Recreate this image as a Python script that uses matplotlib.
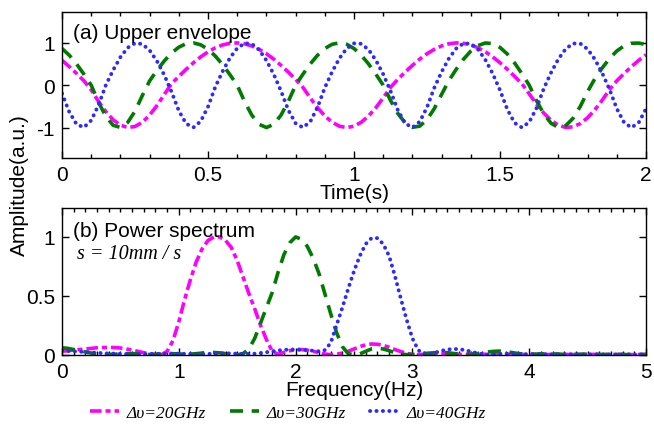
import numpy as np
import matplotlib
matplotlib.use("Agg")
import matplotlib.pyplot as plt
from matplotlib.ticker import MultipleLocator

plt.rcParams['font.family'] = ['Liberation Sans', 'DejaVu Sans']
plt.rcParams['font.size'] = 15
plt.rcParams['axes.unicode_minus'] = False

# ---- data ----
labels = ['Δυ=20GHz', 'Δυ=30GHz', 'Δυ=40GHz']
colors = ['#ff00ff', '#007a00', '#2b2bff']

# (a) upper envelope, sampled every 0.025 s from 0 to 2 s
time = np.linspace(0, 2, 81)
env_20 = [0.588, 0.438, 0.276, 0.104, -0.112, -0.383, -0.623, -0.816, -0.944, -0.998,
          -0.975, -0.876, -0.707, -0.482, -0.223, 0.035, 0.208, 0.375, 0.530, 0.669,
          0.788, 0.883, 0.951, 0.990, 0.999, 0.978, 0.927, 0.848, 0.743, 0.616,
          0.469, 0.309, 0.139, -0.051, -0.299, -0.529, -0.725, -0.874, -0.968, -1.0,
          -0.968, -0.874, -0.725, -0.529, -0.299, -0.051, 0.139, 0.309, 0.469, 0.616,
          0.743, 0.848, 0.927, 0.978, 0.999, 0.990, 0.951, 0.883, 0.788, 0.669,
          0.530, 0.375, 0.208, 0.035, -0.204, -0.447, -0.660, -0.830, -0.945, -0.997,
          -0.984, -0.906, -0.768, -0.580, -0.354, -0.103, 0.105, 0.276, 0.438, 0.588,
          0.719]
env_30 = [0.866, 0.707, 0.5, 0.259, 0.0, -0.402, -0.736, -0.946, -0.997, -0.879,
          -0.615, -0.245, 0.101, 0.347, 0.571, 0.759, 0.898, 0.980, 0.999, 0.954,
          0.849, 0.689, 0.485, 0.250, 0.0, -0.383, -0.707, -0.924, -1.0, -0.924,
          -0.707, -0.383, 0.0, 0.259, 0.5, 0.707, 0.866, 0.966, 1.0, 0.966,
          0.866, 0.707, 0.5, 0.259, 0.0, -0.357, -0.667, -0.889, -0.994, -0.967,
          -0.813, -0.553, -0.217, 0.110, 0.376, 0.614, 0.806, 0.937, 0.997, 0.982,
          0.892, 0.736, 0.524, 0.272, 0.0, -0.365, -0.680, -0.901, -0.997, -0.956,
          -0.782, -0.5, -0.149, 0.156, 0.407, 0.629, 0.809, 0.93, 0.99, 0.995,
          0.96]
env_40 = [-0.195, -0.634, -0.924, -0.995, -0.831, -0.471, 0.0, 0.354, 0.662, 0.885,
          0.992, 0.972, 0.825, 0.571, 0.244, -0.156, -0.603, -0.908, -0.998, -0.853,
          -0.509, -0.039, 0.328, 0.643, 0.873, 0.989, 0.976, 0.836, 0.586, 0.259,
          -0.137, -0.588, -0.900, -0.999, -0.863, -0.522, -0.059, 0.316, 0.634, 0.868,
          0.988, 0.978, 0.838, 0.588, 0.260, -0.137, -0.588, -0.900, -0.999, -0.863,
          -0.522, -0.059, 0.315, 0.632, 0.866, 0.987, 0.979, 0.843, 0.597, 0.273,
          -0.118, -0.572, -0.891, -1.0, -0.872, -0.540, -0.078, 0.301, 0.620, 0.858,
          0.985, 0.982, 0.851, 0.609, 0.286, -0.098, -0.556, -0.882, -1.0, -0.882,
          -0.556]

# (b) power spectrum, sampled every 0.05 Hz from 0 to 5 Hz
freq = np.linspace(0, 5, 101)
spec_20 = [0.03, 0.035, 0.04, 0.045, 0.05, 0.055, 0.06, 0.062, 0.063, 0.062,
           0.058, 0.05, 0.04, 0.03, 0.018, 0.008, 0.002, 0.0, 0.03, 0.12,
           0.28, 0.47, 0.64, 0.79, 0.90, 0.97, 1.0, 1.0, 0.97, 0.91,
           0.80, 0.66, 0.52, 0.39, 0.25, 0.13, 0.03, 0.005, 0.02, 0.035,
           0.045, 0.045, 0.04, 0.03, 0.018, 0.007, 0.002, 0.005, 0.015, 0.03,
           0.05, 0.07, 0.085, 0.092, 0.09, 0.08, 0.065, 0.045, 0.028, 0.012,
           0.004, 0.002, 0.005, 0.01, 0.012, 0.012, 0.01, 0.006, 0.003, 0.004,
           0.007, 0.008, 0.006, 0.004, 0.003, 0.005, 0.006, 0.005, 0.003, 0.003,
           0.004, 0.005, 0.004, 0.003, 0.003, 0.004, 0.004, 0.003, 0.002, 0.003,
           0.004, 0.004, 0.003, 0.002, 0.003, 0.003, 0.003, 0.002, 0.002, 0.003,
           0.003]
spec_30 = [0.06, 0.055, 0.045, 0.035, 0.025, 0.015, 0.008, 0.004, 0.003, 0.005,
           0.008, 0.01, 0.01, 0.008, 0.005, 0.003, 0.004, 0.007, 0.01, 0.01,
           0.008, 0.005, 0.006, 0.01, 0.015, 0.02, 0.02, 0.017, 0.01, 0.004,
           0.0, 0.01, 0.05, 0.14, 0.27, 0.40, 0.53, 0.70, 0.85, 0.95,
           1.0, 0.98, 0.92, 0.82, 0.69, 0.52, 0.35, 0.19, 0.07, 0.01,
           0.0, 0.008, 0.03, 0.05, 0.055, 0.05, 0.035, 0.018, 0.006, 0.002,
           0.004, 0.008, 0.012, 0.015, 0.018, 0.02, 0.018, 0.012, 0.006, 0.003,
           0.004, 0.01, 0.018, 0.025, 0.03, 0.032, 0.028, 0.02, 0.012, 0.006,
           0.004, 0.006, 0.008, 0.009, 0.008, 0.006, 0.004, 0.003, 0.004, 0.005,
           0.005, 0.004, 0.003, 0.003, 0.004, 0.004, 0.003, 0.002, 0.003, 0.003,
           0.003]
spec_40 = [0.035, 0.033, 0.03, 0.027, 0.024, 0.02, 0.017, 0.014, 0.012, 0.01,
           0.008, 0.007, 0.006, 0.006, 0.006, 0.007, 0.008, 0.009, 0.01, 0.01,
           0.01, 0.009, 0.008, 0.007, 0.007, 0.008, 0.01, 0.012, 0.013, 0.012,
           0.01, 0.008, 0.008, 0.01, 0.015, 0.022, 0.03, 0.037, 0.042, 0.045,
           0.045, 0.043, 0.04, 0.035, 0.03, 0.04, 0.10, 0.25, 0.40, 0.56,
           0.71, 0.84, 0.94, 0.99, 0.99, 0.94, 0.84, 0.67, 0.48, 0.30,
           0.14, 0.04, 0.005, 0.008, 0.02, 0.035, 0.045, 0.05, 0.048, 0.04,
           0.028, 0.015, 0.006, 0.003, 0.005, 0.008, 0.01, 0.01, 0.008, 0.006,
           0.005, 0.005, 0.006, 0.006, 0.005, 0.004, 0.004, 0.005, 0.005, 0.004,
           0.003, 0.003, 0.004, 0.004, 0.003, 0.003, 0.003, 0.004, 0.003, 0.003,
           0.003]

# line styles: dash-dot, dashed, dotted
styles = [dict(dashes=(3.2, 1.1, 1.4, 1.1), lw=2.6),
          dict(dashes=(3.6, 2.4), lw=2.6),
          dict(dashes=(0.05, 1.6), lw=2.8, dash_capstyle='round')]

fig = plt.figure(figsize=(6.54, 4.31), dpi=100)
ax1 = fig.add_axes([0.0948, 0.631, 0.893, 0.338])
ax2 = fig.add_axes([0.0948, 0.173, 0.893, 0.342])

for env, c, st in zip([env_20, env_30, env_40], colors, styles):
    ax1.plot(time, env, color=c, **st)
lines = []
for spec, c, st, lab in zip([spec_20, spec_30, spec_40], colors, styles, labels):
    ln, = ax2.plot(freq, spec, color=c, label=lab, **st)
    lines.append(ln)

ax1.set_xlim(0, 2)
ax1.set_ylim(-1.72, 1.72)
ax1.set_xticks([0, 0.5, 1, 1.5, 2])
ax1.set_xticklabels(['0', '0.5', '1', '1.5', '2'])
ax1.xaxis.set_minor_locator(MultipleLocator(0.1))
ax1.set_yticks([-1, 0, 1])
ax1.set_xlabel('Time(s)', labelpad=-1)
ax1.text(0.018, 0.86, '(a) Upper envelope', transform=ax1.transAxes, va='center')

ax2.set_xlim(0, 5)
ax2.set_ylim(-0.005, 1.245)
ax2.set_xticks([0, 1, 2, 3, 4, 5])
ax2.xaxis.set_minor_locator(MultipleLocator(0.1))
ax2.set_yticks([0, 0.5, 1])
ax2.set_yticklabels(['0', '0.5', '1'])
ax2.set_xlabel('Frequency(Hz)', labelpad=-1)
ax2.text(0.018, 0.845, '(b) Power spectrum', transform=ax2.transAxes, va='center')
ax2.text(0.026, 0.69, 's = 10mm / s', transform=ax2.transAxes, va='center',
         family='Liberation Serif', style='italic', fontsize=14.5)

for ax in (ax1, ax2):
    ax.tick_params(which='both', direction='in', top=True, right=True, width=1)
    ax.tick_params(which='major', length=5, pad=5)
    ax.tick_params(which='minor', length=3)
    for sp in ax.spines.values():
        sp.set_linewidth(1)

fig.text(0.03, 0.57, 'Amplitude(a.u.)', rotation=90, va='center', ha='center')

fig.legend(handles=lines, loc='lower center', bbox_to_anchor=(0.44, -0.015), ncol=3,
           frameon=False, handlelength=1.7, handletextpad=0.4, columnspacing=1.4,
           prop={'family': 'Liberation Serif', 'style': 'italic', 'size': 12.5})

fig.savefig('out.png', dpi=100)
